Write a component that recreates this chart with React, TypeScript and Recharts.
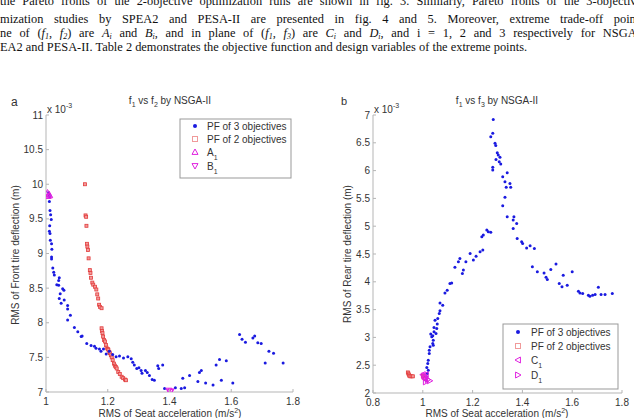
import { Scatter, ScatterChart, XAxis, YAxis } from "recharts";

// ---- data: (seat acceleration, tire deflection x 1e-3) ----

// f1 vs f2, NSGA-II
const frontPf3: [number, number][] = [
  [1.008, 9.88], [1.010, 9.85], [1.012, 9.82], [1.011, 9.75], [1.013, 9.62],
  [1.015, 9.56], [1.017, 9.49], [1.012, 9.40], [1.011, 9.32], [1.013, 9.29],
  [1.014, 9.19], [1.018, 9.14], [1.019, 9.06], [1.018, 8.95], [1.018, 8.92],
  [1.022, 8.79], [1.025, 8.73], [1.027, 8.69], [1.035, 8.55], [1.041, 8.54],
  [1.043, 8.65], [1.041, 8.61], [1.054, 8.49], [1.058, 8.47], [1.046, 8.42],
  [1.043, 8.35], [1.049, 8.28], [1.059, 8.33], [1.070, 8.25], [1.070, 8.20],
  [1.079, 8.11], [1.070, 8.04], [1.092, 7.93], [1.103, 7.87], [1.114, 7.80],
  [1.117, 7.81], [1.132, 7.70], [1.146, 7.67], [1.157, 7.66], [1.162, 7.63],
  [1.173, 7.62], [1.178, 7.59], [1.186, 7.62], [1.195, 7.55], [1.205, 7.59],
  [1.216, 7.54], [1.227, 7.51], [1.238, 7.52], [1.251, 7.49], [1.265, 7.51],
  [1.276, 7.48], [1.281, 7.43], [1.286, 7.39], [1.294, 7.34], [1.301, 7.35],
  [1.308, 7.31], [1.311, 7.27], [1.322, 7.31], [1.328, 7.28], [1.335, 7.24],
  [1.344, 7.18], [1.351, 7.17], [1.362, 7.38], [1.365, 7.34], [1.378, 7.39],
  [1.384, 7.05], [1.419, 7.06], [1.438, 7.05], [1.449, 7.06], [1.443, 7.20],
  [1.465, 7.24], [1.492, 7.15], [1.497, 7.28], [1.503, 7.31], [1.517, 7.13],
  [1.541, 7.10], [1.551, 7.39], [1.562, 7.47], [1.568, 7.17], [1.584, 7.45],
  [1.605, 7.13], [1.627, 7.83], [1.635, 7.76], [1.646, 7.72], [1.670, 7.78],
  [1.676, 7.81], [1.686, 7.71], [1.697, 7.70], [1.710, 7.42], [1.722, 7.59],
  [1.737, 7.56], [1.768, 7.42],
];

const frontPf2: [number, number][] = [
  [1.126, 10.0], [1.128, 9.55], [1.130, 9.53], [1.131, 9.40], [1.133, 9.14],
  [1.134, 9.10], [1.136, 9.05], [1.138, 8.93], [1.142, 8.76], [1.144, 8.72],
  [1.146, 8.65], [1.150, 8.58], [1.153, 8.55], [1.159, 8.52], [1.163, 8.48],
  [1.166, 8.41], [1.169, 8.35], [1.172, 8.26], [1.175, 8.23], [1.180, 8.21],
  [1.180, 7.92], [1.181, 7.88], [1.183, 7.85], [1.185, 7.80], [1.188, 7.75],
  [1.191, 7.73], [1.194, 7.68], [1.196, 7.64], [1.200, 7.62], [1.202, 7.61],
  [1.205, 7.58], [1.207, 7.56], [1.210, 7.53], [1.213, 7.50], [1.216, 7.46],
  [1.220, 7.41], [1.223, 7.38], [1.226, 7.36], [1.229, 7.34], [1.234, 7.29],
  [1.239, 7.26], [1.245, 7.22], [1.250, 7.20], [1.256, 7.18], [1.259, 7.17],
];

const pointA1: [number, number][] = [[1.005, 9.88], [1.009, 9.86], [1.012, 9.84], [1.007, 9.83]];
const pointB1: [number, number][] = [[1.398, 7.02], [1.402, 7.0], [1.405, 7.01]];

// f1 vs f3, NSGA-II
const rearPf3: [number, number][] = [
  [1.013, 2.23], [1.016, 2.29], [1.018, 2.35], [1.022, 2.41], [1.016, 2.46],
  [1.020, 2.53], [1.022, 2.59], [1.026, 2.71], [1.026, 2.77], [1.029, 2.83],
  [1.040, 2.89], [1.042, 2.86], [1.042, 2.95], [1.036, 3.01], [1.040, 3.03],
  [1.032, 3.06], [1.053, 3.07], [1.045, 3.10], [1.056, 3.16], [1.045, 3.18],
  [1.058, 3.24], [1.049, 3.31], [1.060, 3.34], [1.066, 3.43], [1.069, 3.48],
  [1.080, 3.58], [1.069, 3.62], [1.089, 3.80], [1.098, 3.85], [1.109, 3.97],
  [1.116, 3.98], [1.129, 4.26], [1.143, 4.36], [1.149, 4.42], [1.159, 4.15],
  [1.163, 4.21], [1.173, 4.36], [1.190, 4.51], [1.203, 4.39], [1.214, 4.46],
  [1.230, 4.54], [1.241, 4.57], [1.237, 4.81], [1.243, 4.84], [1.257, 4.93],
  [1.263, 4.90], [1.273, 4.89],
  [1.283, 6.92], [1.281, 6.67], [1.273, 6.61], [1.290, 6.49], [1.293, 6.45],
  [1.299, 6.32], [1.303, 6.28], [1.310, 6.24], [1.294, 6.20], [1.307, 6.16],
  [1.313, 6.12], [1.281, 6.06], [1.281, 6.01], [1.339, 5.96], [1.321, 5.89],
  [1.330, 5.80], [1.350, 5.77], [1.335, 5.70], [1.353, 5.70], [1.330, 5.52],
  [1.321, 5.37], [1.339, 5.17], [1.366, 5.17], [1.363, 5.11], [1.377, 5.05],
  [1.363, 4.96], [1.379, 4.78], [1.397, 4.72], [1.401, 4.69], [1.417, 4.61],
  [1.431, 4.65], [1.448, 4.60], [1.440, 4.27], [1.460, 4.18], [1.487, 4.16],
  [1.495, 4.08], [1.500, 4.04], [1.514, 4.22], [1.535, 4.32], [1.548, 3.97],
  [1.559, 3.91], [1.564, 4.12], [1.580, 3.94], [1.600, 4.18], [1.625, 3.83],
  [1.631, 3.80], [1.642, 3.79], [1.665, 3.76], [1.671, 3.74], [1.682, 3.76],
  [1.692, 3.77], [1.705, 3.90], [1.716, 3.77], [1.732, 3.77], [1.761, 3.79],
];

const rearPf2: [number, number][] = [
  [0.940, 2.37], [0.942, 2.35], [0.944, 2.33], [0.946, 2.31], [0.950, 2.30],
  [0.955, 2.30], [0.960, 2.30], [1.000, 2.31], [1.003, 2.28], [1.008, 2.26],
];

const pointC1: [number, number][] = [[1.000, 2.33], [1.005, 2.28], [1.012, 2.33], [1.010, 2.25]];
const pointD1: [number, number][] = [[1.012, 2.20], [1.020, 2.24], [1.028, 2.22], [1.006, 2.31]];

const ticksAX = [1, 1.2, 1.4, 1.6, 1.8];
const ticksAY = [7, 7.5, 8, 8.5, 9, 9.5, 10, 10.5, 11];
const ticksBX = [0.8, 1, 1.2, 1.4, 1.6, 1.8];
const ticksBY = [2, 2.5, 3, 3.5, 4, 4.5, 5, 5.5, 6, 6.5, 7];

// ---- styling ----
const FONT = "'Liberation Sans', Arial, sans-serif";
const SERIF = "'Liberation Serif', 'Times New Roman', serif";
const INK = "#333";
const AXIS = "#b5b5b5";
const BLUE = "#1a1ae0";
const RED = "#e23c3c";
const MAGENTA = "#e020e0";

const pts = (arr: [number, number][]) => arr.map(([x, y]) => ({ x, y }));

const dot = (p: any) => <circle cx={p.cx} cy={p.cy} r={1.5} fill={BLUE} />;
const square = (p: any) => (
  <rect x={p.cx - 1.5} y={p.cy - 1.5} width={3} height={3} fill="#f39a9a" stroke={RED} strokeWidth={0.8} />
);
const tri = (dir: "up" | "down" | "left" | "right", s = 3) => (p: any) => {
  const { cx, cy } = p;
  const d = {
    up: `M${cx},${cy - s} L${cx + s},${cy + s * 0.8} L${cx - s},${cy + s * 0.8} Z`,
    down: `M${cx},${cy + s} L${cx + s},${cy - s * 0.8} L${cx - s},${cy - s * 0.8} Z`,
    left: `M${cx - s},${cy} L${cx + s * 0.8},${cy - s} L${cx + s * 0.8},${cy + s} Z`,
    right: `M${cx + s},${cy} L${cx - s * 0.8},${cy - s} L${cx - s * 0.8},${cy + s} Z`,
  }[dir];
  return <path d={d} fill="none" stroke={MAGENTA} strokeWidth={1} />;
};

// MATLAB-style ticks: short marks pointing into the plot
const XTick = (p: any) => (
  <g>
    <line x1={p.x} x2={p.x} y1={p.y} y2={p.y - 3} stroke={AXIS} />
    <text x={p.x} y={p.y + 13} textAnchor="middle" fontSize={10} fill={INK} fontFamily={FONT}>
      {p.payload.value}
    </text>
  </g>
);
const YTick = (p: any) => (
  <g>
    <line x1={p.x} x2={p.x + 3} y1={p.y} y2={p.y} stroke={AXIS} />
    <text x={p.x - 3} y={p.y + 3.5} textAnchor="end" fontSize={10} fill={INK} fontFamily={FONT}>
      {p.payload.value}
    </text>
  </g>
);

function Panel(props: {
  margin: { top: number; right: number; left: number; bottom: number };
  xDomain: [number, number];
  yDomain: [number, number];
  xTicks: number[];
  yTicks: number[];
  xHeight: number;
  series: { data: [number, number][]; shape: any }[];
}) {
  return (
    <ScatterChart width={317} height={418} margin={props.margin}>
      <XAxis
        type="number"
        dataKey="x"
        domain={props.xDomain}
        ticks={props.xTicks}
        allowDataOverflow
        height={props.xHeight}
        tickSize={0}
        tickMargin={0}
        tick={XTick}
        axisLine={{ stroke: AXIS }}
      />
      <YAxis
        type="number"
        dataKey="y"
        domain={props.yDomain}
        ticks={props.yTicks}
        allowDataOverflow
        width={40}
        tickSize={0}
        tickMargin={0}
        tick={YTick}
        axisLine={{ stroke: AXIS }}
      />
      {props.series.map((s, i) => (
        <Scatter key={i} data={pts(s.data)} shape={s.shape} isAnimationActive={false} />
      ))}
    </ScatterChart>
  );
}

const lbl = { fontFamily: FONT, fontSize: 10, fill: INK } as const;

function LegendBox({ x, y, w, h, rows, mx, tx }: any) {
  return (
    <g>
      <rect x={x} y={y} width={w} height={h} fill="#fff" stroke="#999" strokeWidth={1} />
      {rows.map((r: any, i: number) => (
        <g key={i}>
          {r.marker(mx, r.y)}
          <text x={tx} y={r.y + 3.5} {...lbl}>
            {r.label}
            {r.sub && (
              <tspan dy={4} fontSize={7}>
                {r.sub}
              </tspan>
            )}
          </text>
        </g>
      ))}
    </g>
  );
}

const legendMarkers = {
  pf3: (x: number, y: number) => <circle cx={x} cy={y} r={2} fill={BLUE} />,
  pf2: (x: number, y: number) => (
    <rect x={x - 2.5} y={y - 2.5} width={5} height={5} fill="none" stroke="#f09a9a" strokeWidth={1} />
  ),
  up: (x: number, y: number) => tri("up", 3)({ cx: x, cy: y }),
  down: (x: number, y: number) => tri("down", 3)({ cx: x, cy: y }),
  left: (x: number, y: number) => tri("left", 3)({ cx: x, cy: y }),
  right: (x: number, y: number) => tri("right", 3)({ cx: x, cy: y }),
};

function Title({ x, y, b }: { x: number; y: number; b: string }) {
  return (
    <text x={x} y={y} textAnchor="middle" {...lbl}>
      f<tspan dy={3} fontSize={7}>1</tspan>
      <tspan dy={-3}> vs f</tspan>
      <tspan dy={3} fontSize={7}>{b}</tspan>
      <tspan dy={-3}> by NSGA-II</tspan>
    </text>
  );
}

function Exponent({ x, y }: { x: number; y: number }) {
  return (
    <text x={x} y={y} {...lbl}>
      x 10<tspan dy={-5} fontSize={7}>-3</tspan>
    </text>
  );
}

function XLabel({ x, y }: { x: number; y: number }) {
  return (
    <text x={x} y={y} textAnchor="middle" {...lbl}>
      RMS of Seat acceleration (m/s<tspan dy={-4} fontSize={7}>2</tspan>
      <tspan dy={4}>)</tspan>
    </text>
  );
}

const lineStyle = {
  position: "absolute" as const,
  left: 0,
  whiteSpace: "nowrap" as const,
  fontFamily: SERIF,
  fontSize: 12.4,
  color: "#111",
  lineHeight: "14px",
};
const sub = { fontSize: 8, verticalAlign: "-2px" };

// justified page text above the figure, clipped at the page edges
function Paragraph() {
  return (
    <div style={{ position: "absolute", left: 0, top: 0, width: 634, height: 60, overflow: "hidden" }}>
      <div style={{ ...lineStyle, top: -6, wordSpacing: 4 }}>
        the Pareto fronts of the 2-objective optimization runs are shown in fig. 3. Similarly, Pareto fronts of the 3-objective opti-
      </div>
      <div style={{ ...lineStyle, top: 12, wordSpacing: 7.5 }}>
        mization studies by SPEA2 and PESA-II are presented in fig. 4 and 5. Moreover, extreme trade-off points
      </div>
      <div style={{ ...lineStyle, top: 26, wordSpacing: 4.6 }}>
        ne of (<i>f</i><i style={sub}>1</i>, <i>f</i><i style={sub}>2</i>) are <i>A</i><i style={sub}>i</i> and{" "}
        <i>B</i><i style={sub}>i</i>, and in plane of (<i>f</i><i style={sub}>1</i>, <i>f</i><i style={sub}>3</i>) are{" "}
        <i>C</i><i style={sub}>i</i> and <i>D</i><i style={sub}>i</i>, and i = 1, 2 and 3 respectively for NSGA-II,
      </div>
      <div style={{ ...lineStyle, top: 40 }}>
        EA2 and PESA-II. Table 2 demonstrates the objective function and design variables of the extreme points.
      </div>
    </div>
  );
}

export default function App() {
  return (
    <div
      style={{
        position: "absolute",
        left: 0,
        top: 0,
        width: 634,
        height: 418,
        overflow: "hidden",
        background: "#fff",
      }}
    >
      <Paragraph />
      <div style={{ position: "absolute", left: 0, top: 0 }}>
        <Panel
          margin={{ top: 115, right: 24, left: 6, bottom: 0 }}
          xDomain={[1, 1.8]}
          yDomain={[7, 11]}
          xTicks={ticksAX}
          yTicks={ticksAY}
          xHeight={26}
          series={[
            { data: frontPf2, shape: square },
            { data: frontPf3, shape: dot },
            { data: pointA1, shape: tri("up") },
            { data: pointB1, shape: tri("down") },
          ]}
        />
      </div>
      <div style={{ position: "absolute", left: 317, top: 0 }}>
        <Panel
          margin={{ top: 115, right: 12, left: 16, bottom: 0 }}
          xDomain={[0.8, 1.8]}
          yDomain={[2, 7]}
          xTicks={ticksBX}
          yTicks={ticksBY}
          xHeight={25}
          series={[
            { data: rearPf2, shape: square },
            { data: rearPf3, shape: dot },
            { data: pointC1, shape: tri("left") },
            { data: pointD1, shape: tri("right") },
          ]}
        />
      </div>
      <svg width={634} height={418} style={{ position: "absolute", left: 0, top: 0, pointerEvents: "none" }}>
        <text x={11} y={106} fontFamily={FONT} fontSize={12} fill={INK}>a</text>
        <text x={341} y={105} fontFamily={FONT} fontSize={11} fill={INK}>b</text>
        <Title x={170} y={104} b="2" />
        <Title x={497} y={104} b="3" />
        <Exponent x={47} y={113} />
        <Exponent x={374} y={113} />
        <text transform="translate(19,255) rotate(-90)" textAnchor="middle" {...lbl}>
          RMS of Front tire deflection (m)
        </text>
        <text transform="translate(351,254) rotate(-90)" textAnchor="middle" {...lbl}>
          RMS of Rear tire deflection (m)
        </text>
        <XLabel x={170} y={417} />
        <XLabel x={497} y={417} />
        <LegendBox
          x={180}
          y={119}
          w={111}
          h={59}
          mx={195}
          tx={207}
          rows={[
            { y: 126, label: "PF of 3 objectives", marker: legendMarkers.pf3 },
            { y: 139, label: "PF of 2 objectives", marker: legendMarkers.pf2 },
            { y: 152, label: "A", sub: "1", marker: legendMarkers.up },
            { y: 166, label: "B", sub: "1", marker: legendMarkers.down },
          ]}
        />
        <LegendBox
          x={503}
          y={324}
          w={115}
          h={65}
          mx={518}
          tx={531}
          rows={[
            { y: 332, label: "PF of 3 objectives", marker: legendMarkers.pf3 },
            { y: 346, label: "PF of 2 objectives", marker: legendMarkers.pf2 },
            { y: 360, label: "C", sub: "1", marker: legendMarkers.left },
            { y: 375, label: "D", sub: "1", marker: legendMarkers.right },
          ]}
        />
      </svg>
    </div>
  );
}
